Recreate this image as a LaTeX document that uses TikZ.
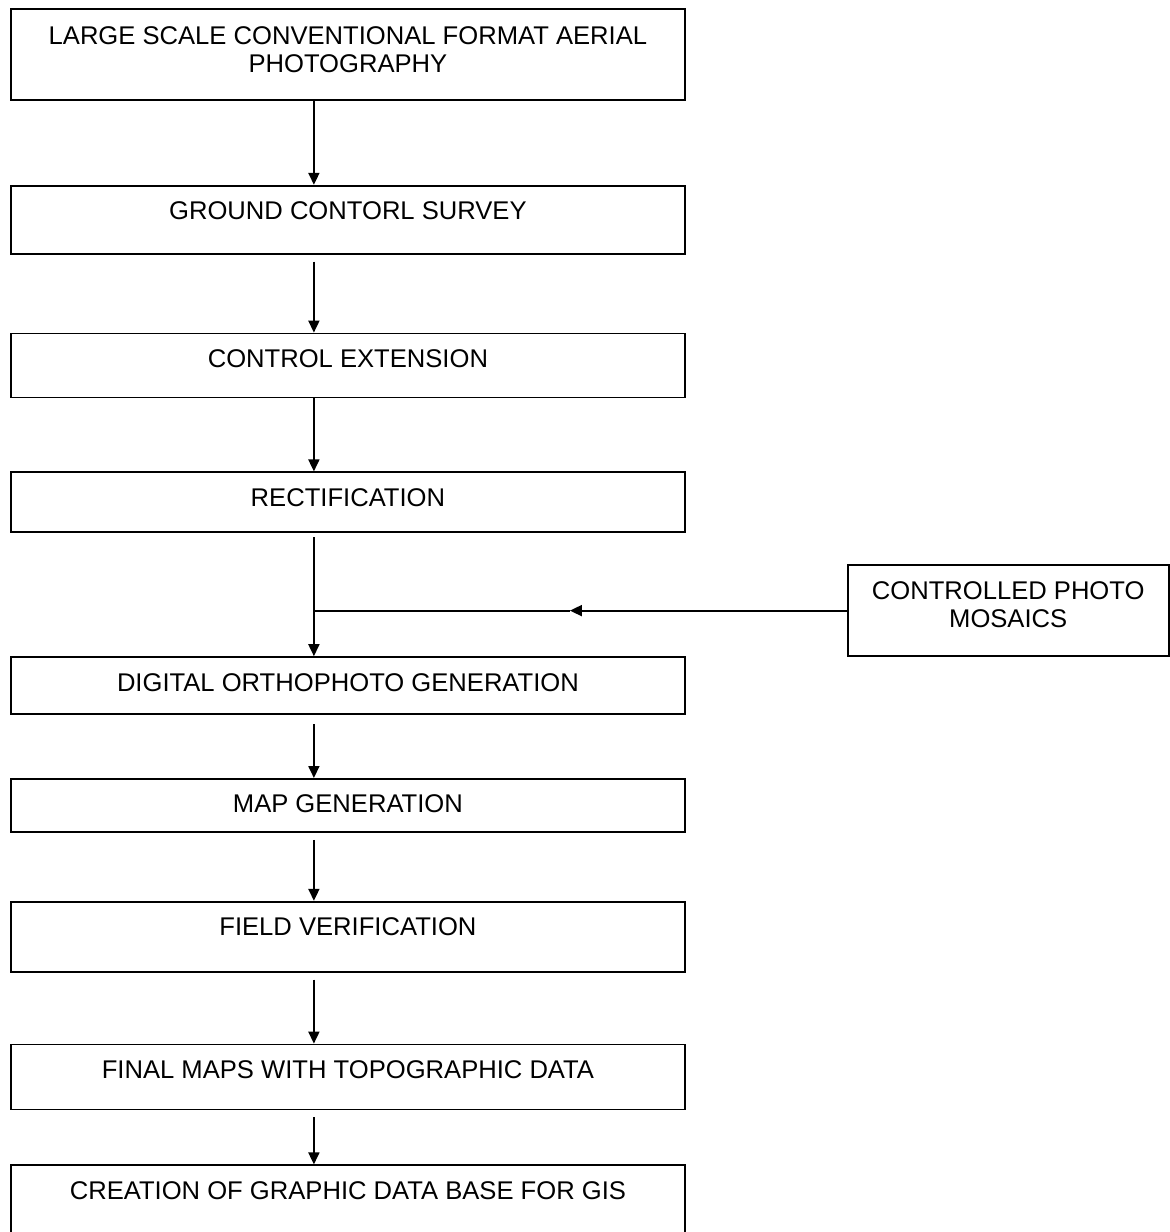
\documentclass[tikz,border=0pt]{standalone}
\usepackage{fontspec}
\setmainfont{Liberation Sans}
\usetikzlibrary{arrows.meta,positioning}

\begin{document}
\begin{tikzpicture}[>={Triangle[length=6pt,width=5.5pt]},line width=0.9pt,
    stage/.style={draw,rectangle,inner sep=0pt,minimum width=337pt,
      text height=17pt,align=center,font=\fontsize{12.8}{14}\selectfont}]
  \useasboundingbox (0,0) rectangle (584.5pt,-616pt);

  % Main chain
  \node[stage,anchor=north west,text height=32pt,text depth=13.5pt] (photo) at (5pt,-4pt)
    {LARGE SCALE CONVENTIONAL FORMAT AERIAL\\PHOTOGRAPHY};
  \node[stage,text depth=17pt,below=42pt of photo] (survey) {GROUND CONTORL SURVEY};
  \node[stage,text depth=15pt,below=39pt of survey] (ext) {CONTROL EXTENSION};
  \node[stage,text depth=13pt,below=36.5pt of ext] (rect) {RECTIFICATION};
  \node[stage,text depth=11.5pt,below=61.5pt of rect] (ortho) {DIGITAL ORTHOPHOTO GENERATION};
  \node[stage,text depth=9.5pt,below=31.5pt of ortho] (map) {MAP GENERATION};
  \node[stage,text depth=18pt,below=34pt of map] (field) {FIELD VERIFICATION};
  \node[stage,text depth=15.5pt,below=35.5pt of field] (final) {FINAL MAPS WITH TOPOGRAPHIC DATA};
  \node[stage,text depth=18pt,below=27pt of final] (gis) {CREATION OF GRAPHIC DATA BASE FOR GIS};

  % Side input
  \node[stage,minimum width=160.5pt,text height=31pt,text depth=14.5pt,
    below right=15.5pt and 80.5pt of rect] (mos) {CONTROLLED PHOTO\\MOSAICS};

  % Transitions
  \draw[->] ([xshift=-17pt]photo.south) -- ([xshift=-17pt]survey.north);
  \draw[->,shorten <=3.5pt] ([xshift=-17pt]survey.south) -- ([xshift=-17pt]ext.north);
  \draw[->] ([xshift=-17pt]ext.south) -- ([xshift=-17pt]rect.north);
  \coordinate (rectout) at ([xshift=-17pt]rect.south);
  \draw[->,shorten <=2pt] (rectout) -- ([xshift=-17pt]ortho.north);
  \draw[->,shorten <=4.5pt] ([xshift=-17pt]ortho.south) -- ([xshift=-17pt]map.north);
  \draw[->,shorten <=3.5pt] ([xshift=-17pt]map.south) -- ([xshift=-17pt]field.north);
  \draw[->,shorten <=3.5pt] ([xshift=-17pt]field.south) -- ([xshift=-17pt]final.north);
  \draw[->,shorten <=3.5pt] ([xshift=-17pt]final.south) -- ([xshift=-17pt]gis.north);

  % Mosaics join
  \coordinate (join) at (rectout |- mos.west);
  \coordinate (tip) at ([xshift=128pt]join);
  \draw[->] (mos.west) -- (tip);
  \draw (tip) -- (join);
\end{tikzpicture}
\end{document}
